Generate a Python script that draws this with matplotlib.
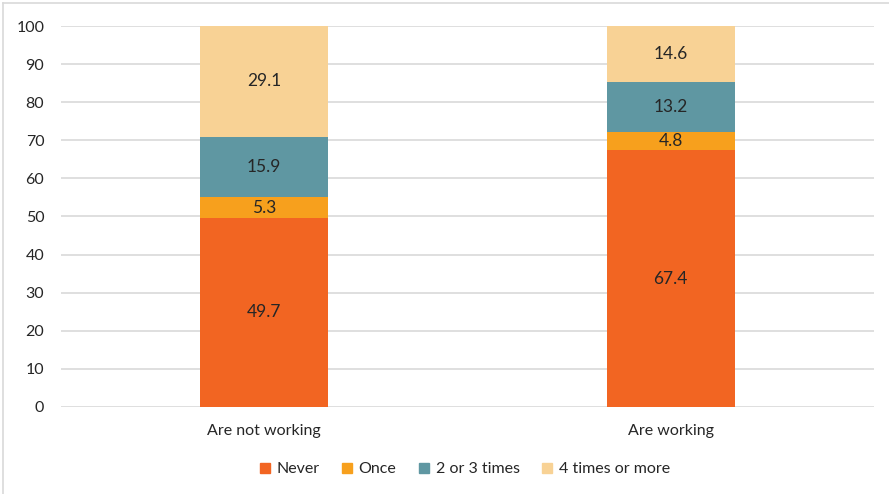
import matplotlib
matplotlib.use("Agg")
import matplotlib.pyplot as plt
from matplotlib.lines import Line2D
import numpy as np

plt.rcParams['font.family'] = ['Lato', 'DejaVu Sans']

categories = ["Are not working", "Are working"]
series_names = ["Never", "Once", "2 or 3 times", "4 times or more"]
never = [49.7, 67.4]
once = [5.3, 4.8]
two_three = [15.9, 13.2]
four_more = [29.1, 14.6]
yticks = [0, 10, 20, 30, 40, 50, 60, 70, 80, 90, 100]

colors = ["#F26522", "#F7A01D", "#5F97A2", "#F8D295"]
series = [never, once, two_three, four_more]

fig = plt.figure(figsize=(8.89, 4.94), dpi=100)
ax = fig.add_axes([61/889, 1-407/494, 813/889, 381/494])

x = np.arange(len(categories))
bottom = np.zeros(len(categories))
for name, vals, c in zip(series_names, series, colors):
    ax.bar(x, vals, 0.315, bottom=bottom, color=c, label=name, zorder=3)
    for xi, b, v in zip(x, bottom, vals):
        ax.text(xi, b + v/2, f"{v:.1f}", ha='center', va='center', fontsize=12.5, color='#262626', zorder=4)
    bottom = bottom + np.array(vals)

ax.set_xlim(-0.5, 1.5)
ax.set_ylim(0, 100)
ax.set_yticks(yticks)
ax.set_xticks(x)
ax.set_xticklabels(categories)
ax.tick_params(axis='both', length=0, labelsize=11.5, colors='#262626')
ax.tick_params(axis='x', pad=12)
ax.tick_params(axis='y', pad=12)
ax.yaxis.grid(True, color='#D9D9D9', linewidth=1.2, zorder=0)
for s in ax.spines.values():
    s.set_visible(False)

handles = [Line2D([0], [0], marker='s', linestyle='none', markersize=7.5, markerfacecolor=c, markeredgecolor=c) for c in colors]
fig.legend(handles, series_names, loc='center', bbox_to_anchor=(464/889, 1-469/494), ncol=4, frameon=False,
           fontsize=11.5, handlelength=0.8, handletextpad=0.35, columnspacing=1.3, labelcolor='#262626')

# figure border (top and left)
fig.add_artist(Line2D([3/889, 1], [1-3/494, 1-3/494], color='#D9D9D9', linewidth=1.2, transform=fig.transFigure))
fig.add_artist(Line2D([3/889, 3/889], [0, 1-3/494], color='#D9D9D9', linewidth=1.2, transform=fig.transFigure))

fig.savefig("out.png", dpi=100)
